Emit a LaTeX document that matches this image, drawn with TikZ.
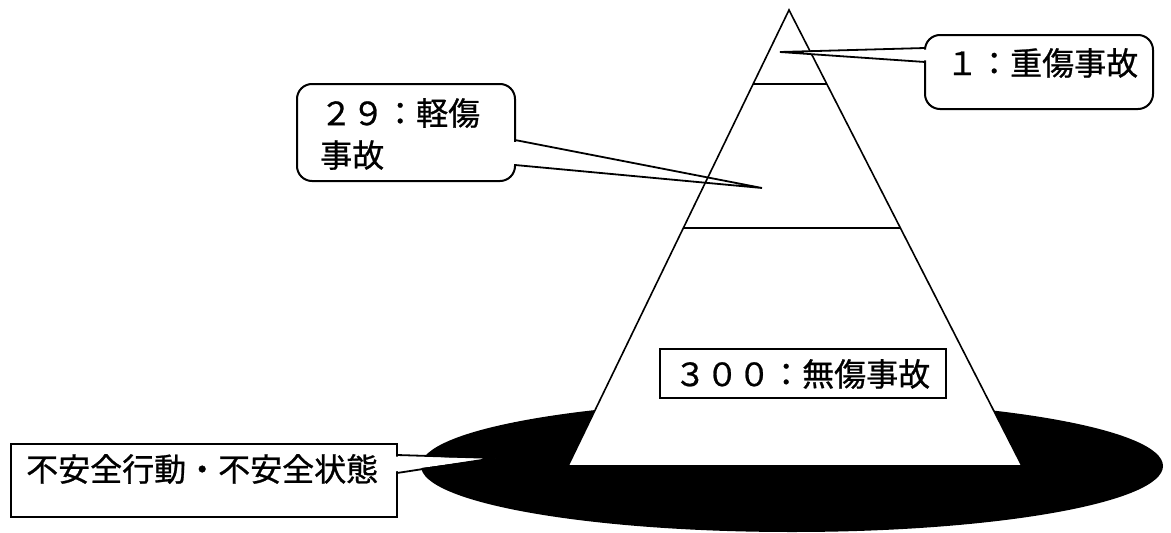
\documentclass[tikz,border=0pt]{standalone}
\usepackage{fontspec}
\newfontfamily\jp[FakeBold=0.8]{Noto Sans CJK JP}
\usetikzlibrary{calc}
\tikzset{
  lbl/.style={font=\jp\fontsize{32}{42}\selectfont, inner sep=0pt, anchor=west},
  boxline/.style={draw=black, line width=2pt, fill=white, inner sep=0pt},
  roundbox/.style={boxline, rounded corners=15pt},
  pyr/.style={draw=black, line width=1.6pt},
  wedge/.style={draw=black, line width=1.8pt, line join=bevel},
}
\begin{document}
\begin{tikzpicture}[x=1pt,y=-1pt]
\useasboundingbox[fill=white] (0,0) rectangle (1171,533);
% base ellipse
\fill[black] (792,466) ellipse [x radius=371pt, y radius=66pt];
% pyramid
\coordinate (apex) at (789,10);
\coordinate (bl) at (568,466);
\coordinate (br) at (1022,466);
\draw[pyr, fill=white, line join=miter] (apex) -- (bl) -- (br) -- cycle;
\coordinate (l1a) at ($(apex)!0.1623!(bl)$);
\coordinate (l1b) at ($(apex)!0.1623!(br)$);
\coordinate (l2a) at ($(apex)!0.478!(bl)$);
\coordinate (l2b) at ($(apex)!0.478!(br)$);
\draw[pyr] (l1a) -- (l1b);
\draw[pyr] (l2a) -- (l2b);
% 300 box
\node[boxline, minimum width=286pt, minimum height=49pt] (b300) at (803,373.5) {};
\node[lbl] (t300) at (674,374) {３００：無傷事故};
% callout 1 (top right)
\node[roundbox, minimum width=228pt, minimum height=74pt] (c1) at (1039,72) {};
\coordinate (c1a) at (925,48);
\coordinate (c1b) at (925,62);
\coordinate (c1tip) at (780,52);
\fill[white] (927.5,49.5) -- (c1tip) -- (927.5,60.5) -- cycle;
\draw[wedge] (c1a) -- (c1tip) -- (c1b);
\node[lbl] (t1) at (946,63) {１：重傷事故};
% callout 2 (middle)
\node[roundbox, minimum width=218pt, minimum height=97pt] (c2) at (406,132.5) {};
\coordinate (c2a) at (515,140);
\coordinate (c2b) at (515,165);
\coordinate (c2tip) at (762,188);
\fill[white] (512.5,141.5) rectangle (517.5,163.5);
\draw[wedge] (c2a) -- (c2tip) -- (c2b);
\node[lbl, align=left] (t2) at (320,134) {２９：軽傷\\事故};
% callout 3 (bottom left)
\node[boxline, minimum width=386pt, minimum height=73pt] (c3) at (204,480.5) {};
\coordinate (c3a) at (397,455);
\coordinate (c3b) at (397,473);
\coordinate (c3tip) at (495,458);
\fill[white] (394.5,456.5) -- (c3tip) -- (394.5,471.5) -- cycle;
\draw[wedge] (c3a) -- (c3tip) -- (c3b);
\node[lbl] (t3) at (26,469) {不安全行動・不安全状態};
\end{tikzpicture}
\end{document}
